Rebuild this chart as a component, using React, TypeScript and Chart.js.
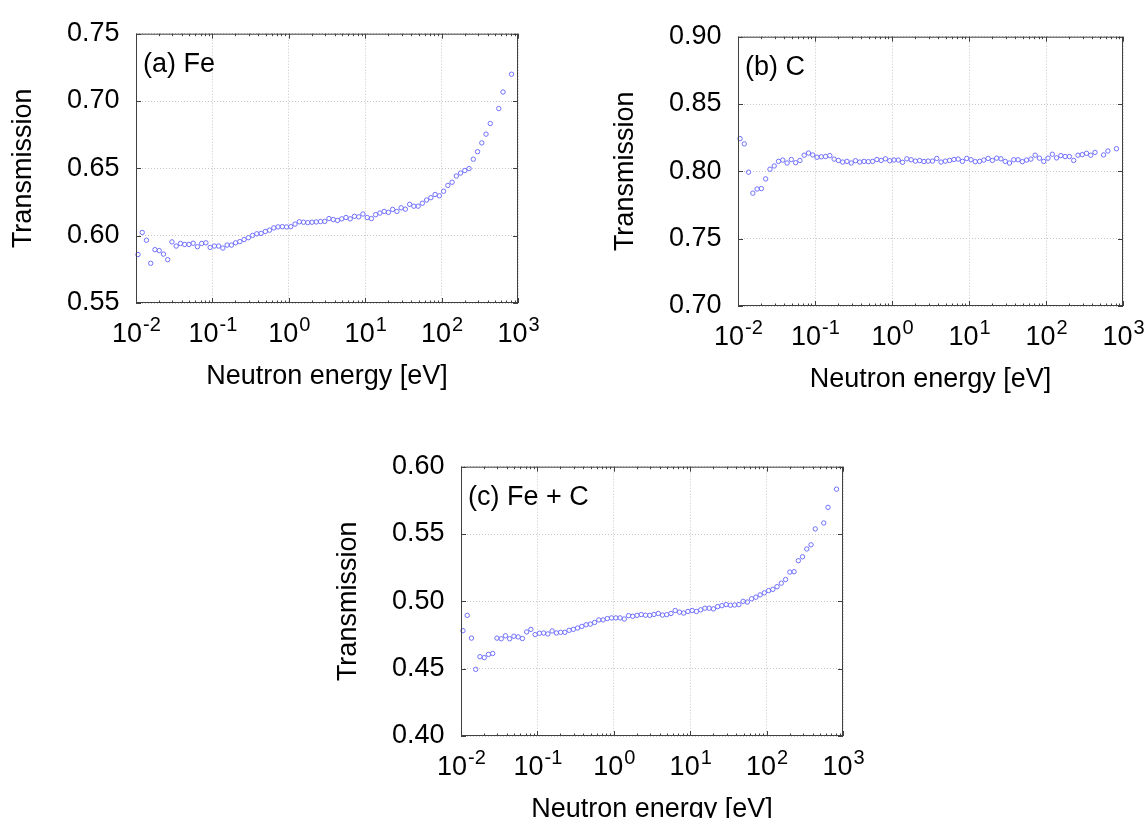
import React, { useEffect, useRef } from 'react';
import { Chart, registerables } from 'chart.js';

Chart.register(...registerables);

// Neutron energy bins [eV] (log-spaced TOF bins)
const energyEV = [
  0.01062, 0.01207, 0.01371, 0.01558, 0.01771, 0.02013, 0.02287, 0.026, 0.02954, 0.03357, 0.03816, 0.04336, 0.04928, 0.056, 0.06365, 0.07233, 0.0822, 0.09342,
  0.1062, 0.1207, 0.1371, 0.1558, 0.1771, 0.2013, 0.2287, 0.26, 0.2954, 0.3357, 0.3816, 0.4336, 0.4928, 0.56, 0.6365, 0.7233, 0.822, 0.9342,
  1.062, 1.207, 1.371, 1.558, 1.771, 2.013, 2.287, 2.6, 2.954, 3.357, 3.816, 4.336, 4.928, 5.6, 6.365, 7.233, 8.22, 9.342,
  10.62, 12.07, 13.71, 15.58, 17.71, 20.13, 22.87, 26.0, 29.54, 33.57, 38.16, 43.36, 49.28, 56.0, 63.65, 72.33, 82.2, 93.42,
  106.2, 120.7, 137.1, 155.8, 177.1, 201.3, 228.7, 260.0, 295.4, 335.7, 381.6, 433.6, 560.0, 636.5, 822.0,
];

const transFe = [
  0.586, 0.6024, 0.5966, 0.5795, 0.5896, 0.5889, 0.5863, 0.5822, 0.5954, 0.5923, 0.5942, 0.5935, 0.5935, 0.5944, 0.5918, 0.5942, 0.5947, 0.5913,
  0.5923, 0.5923, 0.5908, 0.593, 0.593, 0.5947, 0.5956, 0.5971, 0.5985, 0.6002, 0.6014, 0.6017, 0.6031, 0.6041, 0.6058, 0.6065, 0.6067, 0.6065,
  0.6067, 0.6086, 0.6103, 0.61, 0.6097, 0.61, 0.6102, 0.6105, 0.6106, 0.6127, 0.612, 0.6113, 0.6125, 0.6135, 0.6125, 0.6144, 0.614, 0.6161,
  0.6135, 0.6127, 0.6156, 0.6168, 0.618, 0.6173, 0.6195, 0.618, 0.6207, 0.6197, 0.6233, 0.6219, 0.6219, 0.6241, 0.6265, 0.6282, 0.6306, 0.6296,
  0.633, 0.6373, 0.6397, 0.6443, 0.6465, 0.6484, 0.6498, 0.6568, 0.6624, 0.6689, 0.6754, 0.6833, 0.6944, 0.7067, 0.7199,
];

const transC = [
  0.8243, 0.8204, 0.7994, 0.7838, 0.7869, 0.7872, 0.7944, 0.8016, 0.804, 0.8074, 0.8084, 0.8062, 0.8088, 0.8064, 0.8081, 0.812, 0.8136, 0.8122,
  0.8105, 0.8108, 0.811, 0.8117, 0.8091, 0.8081, 0.8069, 0.8074, 0.8062, 0.8079, 0.8069, 0.8074, 0.8072, 0.8074, 0.8088, 0.8081, 0.8093, 0.8079,
  0.8084, 0.8084, 0.8067, 0.8093, 0.8086, 0.8076, 0.808, 0.8073, 0.8076, 0.8076, 0.8096, 0.8069, 0.8076, 0.8081, 0.8088, 0.8091, 0.8074, 0.8096,
  0.8086, 0.8072, 0.8074, 0.8084, 0.8096, 0.8081, 0.8098, 0.8093, 0.8074, 0.8062, 0.8086, 0.8086, 0.8072, 0.8084, 0.8091, 0.812, 0.8098, 0.8074,
  0.8098, 0.8127, 0.81, 0.8117, 0.811, 0.811, 0.8081, 0.812, 0.8124, 0.8134, 0.812, 0.8141, 0.8122, 0.8151, 0.8168,
];

const transFeC = [
  0.4782, 0.4896, 0.4727, 0.4495, 0.4589, 0.4582, 0.4606, 0.4613, 0.4727, 0.4722, 0.4744, 0.4722, 0.4741, 0.4736, 0.4724, 0.4773, 0.4792, 0.4753,
  0.4763, 0.4765, 0.4758, 0.478, 0.4765, 0.477, 0.477, 0.4785, 0.4792, 0.4802, 0.4814, 0.4826, 0.4831, 0.4843, 0.4862, 0.4862, 0.4872, 0.4877,
  0.4877, 0.4877, 0.4869, 0.4894, 0.4889, 0.4896, 0.4902, 0.4897, 0.4896, 0.4903, 0.491, 0.4898, 0.4901, 0.491, 0.4932, 0.492, 0.4913, 0.4925,
  0.4932, 0.4925, 0.4937, 0.4949, 0.4949, 0.4944, 0.4961, 0.4968, 0.4976, 0.4971, 0.4973, 0.4976, 0.5, 0.4995, 0.5019, 0.5031, 0.5048, 0.5063,
  0.508, 0.5089, 0.5109, 0.5135, 0.5162, 0.5217, 0.522, 0.5302, 0.5331, 0.5389, 0.542, 0.5538, 0.5582, 0.5698, 0.5833,
];

const xTickExponents = [-2, -1, 0, 1, 2, 3];
const xMinorMultipliers = [2, 3, 4, 5, 6, 7, 8, 9];
const xTitle = 'Neutron energy [eV]';
const yTitle = 'Transmission';

const FONT = '"Liberation Sans", Arial, Helvetica, sans-serif';
const FS = 27;
const SUP_FS = 20;
const POINT_COLOR = '#7070ff';
const FRAME_COLOR = '#404040';
const GRID_COLOR = '#c6c6c6';

type Rect = { l: number; t: number; r: number; b: number };
type PanelSpec = { label: string; values: number[]; yMin: number; yMax: number; plot: Rect };

const panels: PanelSpec[] = [
  { label: '(a) Fe', values: transFe, yMin: 0.55, yMax: 0.75, plot: { l: 136, t: 27, r: 518, b: 303 } },
  { label: '(b) C', values: transC, yMin: 0.7, yMax: 0.9, plot: { l: 738, t: 30, r: 1123, b: 306 } },
  { label: '(c) Fe + C', values: transFeC, yMin: 0.4, yMax: 0.6, plot: { l: 461, t: 460, r: 843, b: 736 } },
];

const Y_W = 136;
const PAD_T = 26;
const PAD_R = 24;
const X_H = 97;

function Panel({ spec }: { spec: PanelSpec }) {
  const ref = useRef<HTMLCanvasElement>(null);
  const { l, t, r, b } = spec.plot;
  const cl = l - Y_W;
  const ct = t - PAD_T;
  const cw = r + PAD_R - cl;
  const ch = b + X_H - ct;

  useEffect(() => {
    const canvas = ref.current;
    if (!canvas) return;
    const framePlugin = {
      id: 'gnuplotFrame',
      afterDraw(chart: any) {
        const ctx = chart.ctx as CanvasRenderingContext2D;
        const a = chart.chartArea;
        const xs = chart.scales.x;
        const ys = chart.scales.y;
        ctx.save();
        ctx.strokeStyle = FRAME_COLOR;
        ctx.lineWidth = 1;
        ctx.setLineDash([]);
        ctx.strokeRect(a.left + 0.5, a.top + 0.5, a.right - a.left - 1, a.bottom - a.top - 1);
        ctx.beginPath();
        const majorLen = 5;
        const minorLen = 2.5;
        for (const e of xTickExponents) {
          const px = Math.round(xs.getPixelForValue(Math.pow(10, e))) + 0.5;
          ctx.moveTo(px, a.bottom); ctx.lineTo(px, a.bottom - majorLen);
          ctx.moveTo(px, a.top); ctx.lineTo(px, a.top + majorLen);
          if (e < 3) {
            for (const m of xMinorMultipliers) {
              const mx = Math.round(xs.getPixelForValue(m * Math.pow(10, e))) + 0.5;
              ctx.moveTo(mx, a.bottom); ctx.lineTo(mx, a.bottom - minorLen);
              ctx.moveTo(mx, a.top); ctx.lineTo(mx, a.top + minorLen);
            }
          }
        }
        for (const tk of ys.ticks) {
          const py = Math.round(ys.getPixelForValue(tk.value)) + 0.5;
          ctx.moveTo(a.left, py); ctx.lineTo(a.left + majorLen, py);
          ctx.moveTo(a.right, py); ctx.lineTo(a.right - majorLen, py);
        }
        ctx.stroke();
        ctx.fillStyle = '#000';
        ctx.textAlign = 'left';
        ctx.textBaseline = 'alphabetic';
        const base = a.bottom + 39;
        for (const e of xTickExponents) {
          const px = xs.getPixelForValue(Math.pow(10, e));
          const sup = String(e);
          ctx.font = `${FS}px ${FONT}`;
          const wMain = ctx.measureText('10').width;
          ctx.font = `${SUP_FS}px ${FONT}`;
          const wSup = ctx.measureText(sup).width;
          const x0 = px - (wMain + wSup) / 2;
          ctx.font = `${FS}px ${FONT}`;
          ctx.fillText('10', x0, base);
          ctx.font = `${SUP_FS}px ${FONT}`;
          ctx.fillText(sup, x0 + wMain + 1, base - 11);
        }
        ctx.font = `${FS}px ${FONT}`;
        ctx.fillText(spec.label, a.left + 7, a.top + 38);
        ctx.restore();
      },
    };

    const chart = new Chart(canvas, {
      type: 'scatter',
      data: {
        datasets: [
          {
            data: energyEV.map((x, i) => ({ x, y: spec.values[i] })),
            borderColor: POINT_COLOR,
            backgroundColor: 'rgba(0,0,0,0)',
            pointStyle: 'circle',
            pointRadius: 2.2,
            pointBorderWidth: 1,
            borderWidth: 1,
            showLine: false,
            clip: 4,
          } as any,
        ],
      },
      options: {
        animation: false,
        responsive: false,
        maintainAspectRatio: false,
        devicePixelRatio: 1,
        events: [],
        layout: { padding: { left: 0, top: PAD_T, right: PAD_R, bottom: 0 } },
        plugins: { legend: { display: false }, tooltip: { enabled: false } },
        scales: {
          x: {
            type: 'logarithmic',
            min: 0.01,
            max: 1000,
            afterBuildTicks: (scale: any) => {
              scale.ticks = xTickExponents.map((e) => ({ value: Math.pow(10, e), major: true }));
            },
            afterFit: (scale: any) => {
              scale.height = X_H;
            },
            ticks: { display: false },
            grid: { color: GRID_COLOR, lineWidth: 1, drawTicks: false },
            border: { display: false, dash: [1, 2] },
            title: {
              display: true,
              text: xTitle,
              color: '#000',
              font: { family: FONT, size: FS, lineHeight: 1 },
              padding: { top: 0, bottom: X_H - 73.5 - FS / 2 },
            },
          },
          y: {
            type: 'linear',
            min: spec.yMin,
            max: spec.yMax,
            afterFit: (scale: any) => {
              scale.width = Y_W;
            },
            ticks: {
              stepSize: 0.05,
              color: '#000',
              padding: 16.5,
              font: { family: FONT, size: FS },
              callback: (v: any) => Number(v).toFixed(2),
            },
            grid: { color: GRID_COLOR, lineWidth: 1, drawTicks: false },
            border: { display: false, dash: [1, 2] },
            title: {
              display: true,
              text: yTitle,
              color: '#000',
              font: { family: FONT, size: FS, lineHeight: 1 },
              padding: { top: Y_W - 112.3 - FS / 2, bottom: 0 },
            },
          },
        },
      } as any,
      plugins: [framePlugin],
    });
    return () => chart.destroy();
  }, []);

  return (
    <canvas
      ref={ref}
      width={cw}
      height={ch}
      style={{ position: 'absolute', left: cl, top: ct, width: cw, height: ch }}
    />
  );
}

export default function App() {
  return (
    <div
      style={{
        position: 'absolute',
        left: 0,
        top: 0,
        width: 1146,
        height: 818,
        overflow: 'hidden',
        background: '#ffffff',
      }}
    >
      {panels.map((p) => (
        <Panel key={p.label} spec={p} />
      ))}
    </div>
  );
}
